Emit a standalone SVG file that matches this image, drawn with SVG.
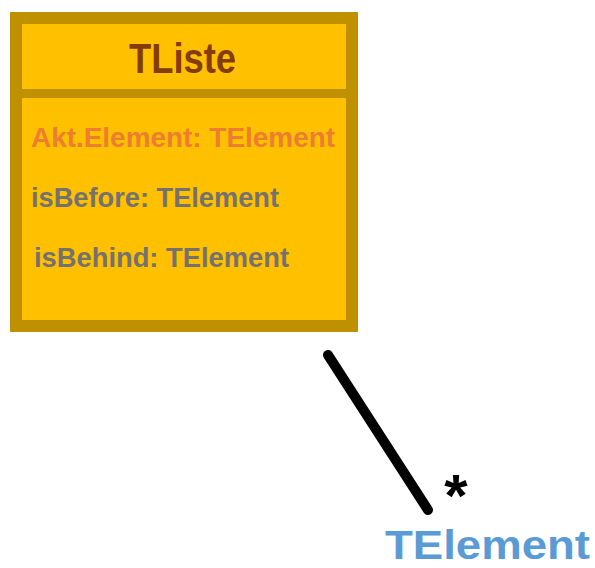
<svg xmlns="http://www.w3.org/2000/svg" width="595" height="568" viewBox="0 0 595 568">
<style>
text{font-family:"Liberation Sans",Arial,sans-serif;font-weight:bold}
.attr{font-size:27px;fill:#767171}
</style>
<rect width="595" height="568" fill="#fff"/>
<g id="connectors">
<line x1="328" y1="355" x2="428" y2="510" stroke="#000" stroke-width="10" stroke-linecap="round"/>
<text x="456" y="516" font-size="60" font-weight="normal" text-anchor="middle" fill="#000">*</text>
</g>
<g id="TListe">
<rect x="16" y="18" width="336" height="308" fill="#FFC000" stroke="#BF9000" stroke-width="12"/>
<line x1="22" y1="93.5" x2="346" y2="93.5" stroke="#BF9000" stroke-width="9"/>
<text x="129" y="73" font-size="42" fill="#843C0C" textLength="107" lengthAdjust="spacingAndGlyphs">TListe</text>
<text x="31" y="147" font-size="27" fill="#ED7D31" textLength="304" lengthAdjust="spacingAndGlyphs">Akt.Element: TElement</text>
<text class="attr" x="31" y="207" textLength="248" lengthAdjust="spacingAndGlyphs">isBefore: TElement</text>
<text class="attr" x="34" y="267" textLength="255" lengthAdjust="spacingAndGlyphs">isBehind: TElement</text>
</g>
<g id="TElement">
<text x="385" y="559" font-size="40" fill="#5B9BD5" textLength="205" lengthAdjust="spacingAndGlyphs">TElement</text>
</g>
</svg>
